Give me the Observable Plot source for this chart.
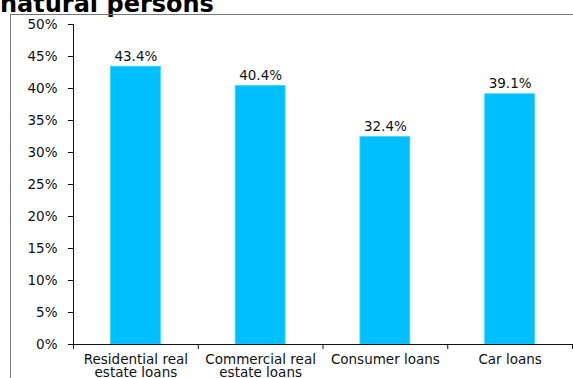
<!DOCTYPE html>
<html>
<head>
<meta charset="utf-8">
<script src="https://cdn.jsdelivr.net/npm/d3@7"></script>
<script src="https://cdn.jsdelivr.net/npm/@observablehq/plot@0.6"></script>
<style>
  html, body { margin: 0; padding: 0; background: #fff; }
  #wrap { position: relative; width: 573px; height: 378px; overflow: hidden; font-family: "DejaVu Sans", Verdana, sans-serif; }
  #title { position: absolute; left: 0px; top: -6px; font-size: 24px; line-height: 20px; font-weight: bold; color: #000; white-space: nowrap; }
  #frame { position: absolute; left: 10px; top: 14px; width: 600px; height: 400px; border-left: 1px solid #777; border-top: 1px solid #777; }
  #chart { position: absolute; left: 0; top: 0; }
</style>
</head>
<body>
<div id="wrap">
  <div id="title">natural persons</div>
  <div id="frame"></div>
  <div id="chart"></div>
</div>
<script>
const categories = ["Residential real\nestate loans", "Commercial real\nestate loans", "Consumer loans", "Car loans"];
const values = [0.434, 0.404, 0.324, 0.391];
const valueLabels = ["43.4%", "40.4%", "32.4%", "39.1%"];
const yTicks = [0, 0.05, 0.10, 0.15, 0.20, 0.25, 0.30, 0.35, 0.40, 0.45, 0.50];

const data = categories.map((c, i) => ({i, c, v: values[i], label: valueLabels[i]}));
const boundaries = d3.range(categories.length + 1);
const centers = categories.map((c, i) => i + 0.5);

const chart = Plot.plot({
  width: 573,
  height: 378,
  marginLeft: 73,
  marginRight: 1,
  marginTop: 24,
  marginBottom: 34,
  style: {fontFamily: "DejaVu Sans, Verdana, sans-serif", fontSize: "13.5px", color: "#111", background: "transparent"},
  x: {domain: [0, categories.length]},
  y: {domain: [0, 0.5]},
  marks: [
    Plot.rectY(data, {x1: d => d.i + 0.3, x2: d => d.i + 0.7, y1: 0, y2: "v", fill: "#00bfff", stroke: "#3fd0ff", strokeWidth: 0.8}),
    Plot.text(data, {x: d => d.i + 0.5, y: "v", text: "label", lineAnchor: "bottom", dy: -6, fill: "#111", fontSize: 13.5}),
    Plot.axisY({ticks: yTicks, tickFormat: d3.format(".0%"), tickSize: 5, tickPadding: 11, fontSize: 13.5, label: null, stroke: "#111", fill: "#111"}),
    Plot.axisX({ticks: boundaries, tickFormat: () => "", tickSize: 5, label: null, stroke: "#111"}),
    Plot.axisX({ticks: centers, tickFormat: d => categories[Math.floor(d)], tickSize: 0, tickPadding: 10, lineHeight: 0.98, fontSize: 13.5, label: null, fill: "#111"}),
    Plot.ruleX([0], {y1: 0, y2: 0.5, stroke: "#111"}),
    Plot.ruleY([0], {stroke: "#111"})
  ]
});
document.getElementById("chart").appendChild(chart);
</script>
</body>
</html>
